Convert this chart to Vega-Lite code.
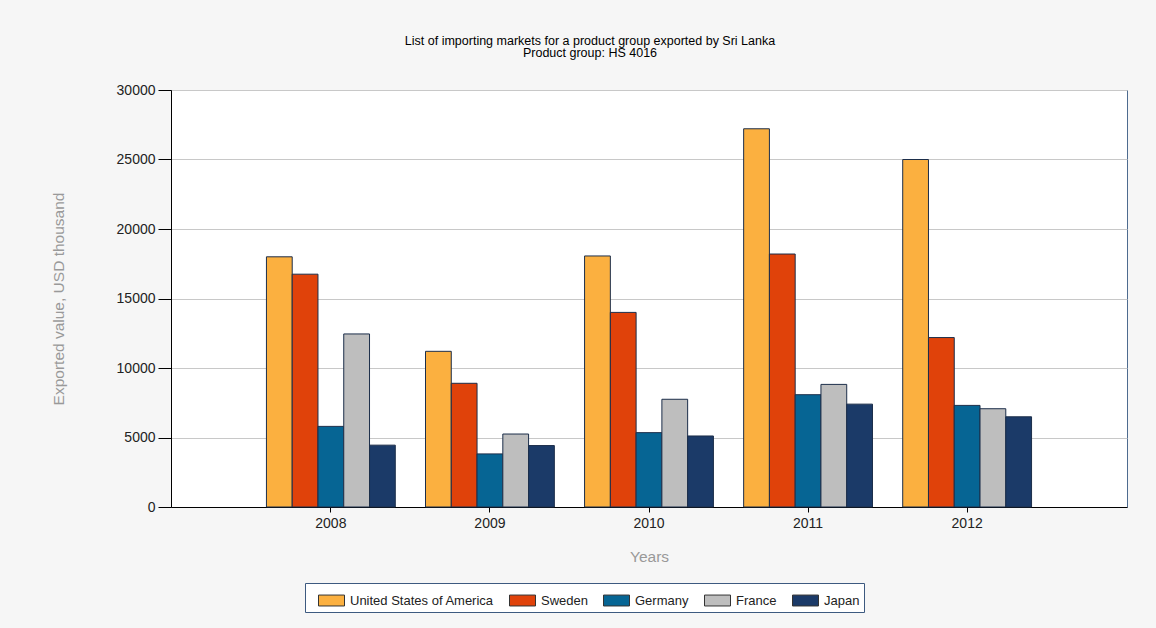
{
  "$schema": "https://vega.github.io/schema/vega-lite/v6.json",
  "autosize": {"type": "none"},
  "width": 956,
  "height": 417,
  "padding": {"left": 171, "top": 90, "right": 29, "bottom": 121},
  "background": "#f6f6f6",
  "title": {
    "text": ["List of importing markets for a product group exported by Sri Lanka", "Product group: HS 4016"],
    "font": "Liberation Sans",
    "fontSize": 12.5,
    "fontWeight": "normal",
    "color": "#000000",
    "lineHeight": 12,
    "offset": 24,
    "dx": -59,
    "anchor": "middle"
  },
  "config": {
    "view": {"fill": "white", "stroke": "#4d6b8f", "strokeWidth": 1},
    "font": "Liberation Sans"
  },
  "data": {
    "values": [
      {"year": "2008", "country": "United States of America", "value": 18000},
      {"year": "2008", "country": "Sweden", "value": 16750},
      {"year": "2008", "country": "Germany", "value": 5800},
      {"year": "2008", "country": "France", "value": 12450},
      {"year": "2008", "country": "Japan", "value": 4450},
      {"year": "2009", "country": "United States of America", "value": 11200},
      {"year": "2009", "country": "Sweden", "value": 8900},
      {"year": "2009", "country": "Germany", "value": 3820},
      {"year": "2009", "country": "France", "value": 5250},
      {"year": "2009", "country": "Japan", "value": 4420},
      {"year": "2010", "country": "United States of America", "value": 18060},
      {"year": "2010", "country": "Sweden", "value": 14000},
      {"year": "2010", "country": "Germany", "value": 5350},
      {"year": "2010", "country": "France", "value": 7750},
      {"year": "2010", "country": "Japan", "value": 5110},
      {"year": "2011", "country": "United States of America", "value": 27210},
      {"year": "2011", "country": "Sweden", "value": 18200},
      {"year": "2011", "country": "Germany", "value": 8080},
      {"year": "2011", "country": "France", "value": 8820},
      {"year": "2011", "country": "Japan", "value": 7400},
      {"year": "2012", "country": "United States of America", "value": 25000},
      {"year": "2012", "country": "Sweden", "value": 12190},
      {"year": "2012", "country": "Germany", "value": 7310},
      {"year": "2012", "country": "France", "value": 7070},
      {"year": "2012", "country": "Japan", "value": 6490}
    ]
  },
  "mark": {"type": "bar", "stroke": "#1c2e4a", "strokeWidth": 1},
  "encoding": {
    "x": {
      "field": "year",
      "type": "nominal",
      "scale": {"paddingInner": 0.19, "paddingOuter": 0.6},
      "axis": {
        "title": "Years",
        "titleFont": "Liberation Sans",
        "titleFontSize": 15.5,
        "titleFontWeight": "normal",
        "titleColor": "#999999",
        "titlePadding": 19,
        "labelAngle": 0,
        "labelFontSize": 14,
        "labelColor": "#222222",
        "labelPadding": 4,
        "tickSize": 5,
        "tickColor": "#000000",
        "domainColor": "#000000",
        "grid": false
      }
    },
    "xOffset": {
      "field": "country",
      "sort": ["United States of America", "Sweden", "Germany", "France", "Japan"]
    },
    "y": {
      "field": "value",
      "type": "quantitative",
      "scale": {"domain": [0, 30000], "nice": false},
      "axis": {
        "title": "Exported value, USD thousand",
        "titleFont": "Liberation Sans",
        "titleFontSize": 15.5,
        "titleFontWeight": "normal",
        "titleColor": "#999999",
        "titlePadding": 50,
        "values": [0, 5000, 10000, 15000, 20000, 25000, 30000],
        "format": "d",
        "labelFontSize": 14,
        "labelColor": "#222222",
        "labelPadding": 3,
        "tickSize": 13,
        "tickColor": "#000000",
        "domainColor": "#000000",
        "gridColor": "#c8c8c8",
        "gridWidth": 1
      }
    },
    "color": {
      "field": "country",
      "type": "nominal",
      "scale": {
        "domain": ["United States of America", "Sweden", "Germany", "France", "Japan"],
        "range": ["#FBB040", "#E0420A", "#066594", "#BEBEBE", "#1B3A68"]
      },
      "legend": {
        "title": null,
        "orient": "none",
        "direction": "horizontal",
        "legendX": 134,
        "legendY": 493,
        "fillColor": "#ffffff",
        "strokeColor": "#3d5a80",
        "padding": 4,
        "symbolOffset": 9,
        "symbolType": "M-1,-0.42h2v0.84h-2z",
        "symbolSize": 676,
        "symbolStrokeColor": "#333333",
        "symbolStrokeWidth": 1,
        "symbolOpacity": 1,
        "labelFontSize": 13,
        "labelColor": "#222222",
        "labelOffset": 5,
        "columnPadding": 6
      }
    }
  }
}
